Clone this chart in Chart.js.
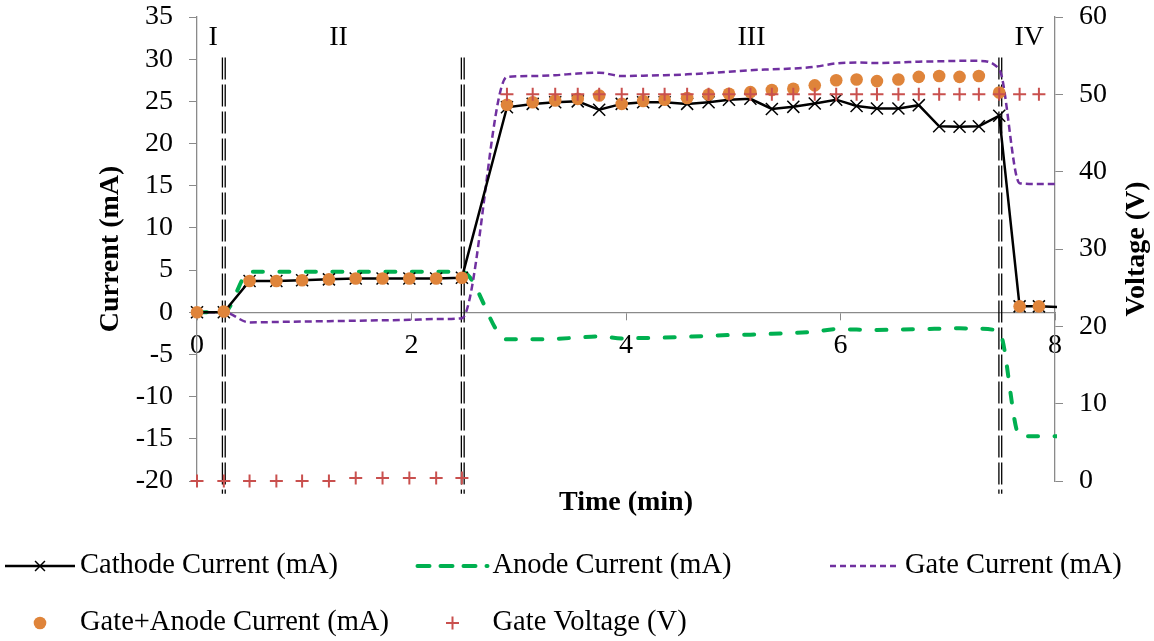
<!DOCTYPE html>
<html>
<head>
<meta charset="utf-8">
<script src="https://cdn.jsdelivr.net/npm/chart.js@4.4.1/dist/chart.umd.min.js"></script>
<style>
  html, body { margin: 0; padding: 0; background: #fff; }
  #wrap { width: 1154px; height: 641px; }
</style>
</head>
<body>
<div id="wrap"><canvas id="myChart" width="1154" height="641"></canvas></div>
<script>
// time of each sample (min)
const timeMin = [0, 0.25, 0.49, 0.74, 0.98, 1.23, 1.48, 1.73, 1.98, 2.23, 2.47,
  2.89, 3.13, 3.34, 3.55, 3.75, 3.96, 4.16, 4.36, 4.57, 4.77, 4.96, 5.16,
  5.36, 5.56, 5.76, 5.96, 6.15, 6.34, 6.54, 6.73, 6.92, 7.11, 7.29, 7.48,
  7.67, 7.85, 8.04];

const cathodeCurrent = [0, 0, 3.7, 3.7, 3.8, 3.9, 4.0, 4.0, 4.0, 4.0, 4.1,
  24.3, 24.7, 24.9, 25.0, 24.0, 24.7, 24.9, 24.9, 24.7, 24.9, 25.2, 25.3,
  24.1, 24.35, 24.75, 25.2, 24.45, 24.15, 24.15, 24.55, 22.05, 22.0, 22.05, 23.3,
  0.7, 0.7, 0.6];

const anodeCurrent = [0, 0, 4.8, 4.8, 4.8, 4.8, 4.8, 4.8, 4.8, 4.8, 4.8,
  -3.2, -3.2, -3.15, -3.0, -2.85, -3.1, -3.05, -3.0, -2.9, -2.8, -2.7, -2.65,
  -2.55, -2.45, -2.3, -2.0, -2.05, -2.1, -2.05, -2.0, -1.95, -1.9, -1.95, -2.3,
  -14.65, -14.7, -14.7];

const gateCurrent = [0, 0, -1.2, -1.15, -1.1, -1.05, -1.0, -0.95, -0.9, -0.8, -0.7,
  27.9, 28.0, 28.1, 28.3, 28.4, 28.0, 28.05, 28.1, 28.2, 28.35, 28.5, 28.7,
  28.8, 28.9, 29.1, 29.5, 29.6, 29.55, 29.6, 29.7, 29.75, 29.8, 29.8, 28.8,
  15.3, 15.2, 15.2];

const gateAnodeCurrent = [0, 0.1, 3.7, 3.7, 3.8, 3.9, 4.0, 4.0, 4.0, 4.0, 4.1,
  24.6, 24.9, 25.1, 25.3, 25.7, 24.7, 25.05, 25.2, 25.4, 25.8, 25.9, 26.1,
  26.35, 26.5, 26.9, 27.5, 27.6, 27.4, 27.6, 27.9, 28.0, 27.9, 28.0, 26.05,
  0.7, 0.7, null];

const gateVoltage = [0, 0, 0, 0, 0, 0, 0.4, 0.4, 0.4, 0.4, 0.4,
  50, 50, 50, 50, 50, 50, 50, 50, 50, 50, 50, 50,
  50, 50, 50, 50, 50, 50, 50, 50, 50, 50, 50, 50,
  50, 50, null];

// phase boundaries and labels
const phaseBounds = [0.25, 2.478, 7.49];
const phaseNames = ['I', 'II', 'III', 'IV'];
const phaseLabelTimes = [0.15, 1.32, 5.17, 7.76];

const serif = '"Liberation Serif", "Times New Roman", serif';
const axisGray = '#8a8a8a';

function pts(values) {
  return timeMin.map((t, i) => ({x: t, y: values[i]}));
}

// y axes: fixed width, no extra top/bottom room for the end labels
function fixWidth(w) {
  return s => {
    s.width = w;
    s.paddingTop = 0;
    s.paddingBottom = 0;
  };
}

const phasePlugin = {
  id: 'phases',
  beforeDatasetsDraw(chart) {
    const {ctx, scales: {x, y}} = chart;
    ctx.save();
    ctx.strokeStyle = '#000';
    ctx.lineWidth = 1.3;
    ctx.setLineDash([22, 5]);
    phaseBounds.forEach(t => {
      const px = x.getPixelForValue(t);
      [-1.4, 1.4].forEach(off => {
        ctx.beginPath();
        ctx.moveTo(px + off, y.getPixelForValue(30.2));
        ctx.lineTo(px + off, y.getPixelForValue(-21.5));
        ctx.stroke();
      });
    });
    ctx.restore();
  },
  afterDraw(chart) {
    const {ctx, scales: {x, y}} = chart;
    ctx.save();
    ctx.fillStyle = '#000';
    ctx.font = '28px ' + serif;
    ctx.textAlign = 'center';
    ctx.textBaseline = 'middle';
    phaseNames.forEach((n, i) => {
      ctx.fillText(n, x.getPixelForValue(phaseLabelTimes[i]), y.getPixelForValue(32.6));
    });

    // right axis title, reading upward like the left one
    const y2 = chart.scales.y2;
    ctx.font = 'bold 28px ' + serif;
    ctx.translate(1137, (chart.chartArea.top + chart.chartArea.bottom) / 2);
    ctx.rotate(-Math.PI / 2);
    ctx.fillText(y2.options.title.text, 0, 0);
    ctx.restore();
  }
};

const legendPlugin = {
  id: 'legendGrid',
  afterDraw(chart) {
    const ctx = chart.ctx;
    ctx.save();
    chart.data.datasets.forEach((ds, i) => {
      const col = i % 3, row = Math.floor(i / 3);
      const x0 = 5 + col * 412.5;
      const y0 = 566 + row * 57;
      if (ds.showLine !== false) {
        ctx.strokeStyle = ds.borderColor;
        ctx.lineWidth = ds.borderWidth;
        ctx.lineCap = ds.borderCapStyle || 'butt';
        ctx.setLineDash(ds.legendDash || []);
        ctx.beginPath();
        ctx.moveTo(x0, y0);
        ctx.lineTo(x0 + 70, y0);
        ctx.stroke();
      }
      ctx.setLineDash([]);
      ctx.lineCap = 'butt';
      if (ds.legendRadius) {
        ctx.fillStyle = ds.pointBackgroundColor;
        ctx.strokeStyle = ds.pointBorderColor;
        ctx.lineWidth = ds.pointBorderWidth;
        Chart.helpers.drawPoint(ctx, {pointStyle: ds.pointStyle, radius: ds.legendRadius,
          borderWidth: ds.pointBorderWidth, rotation: 0}, x0 + 35, y0);
      }
      ctx.fillStyle = '#000';
      ctx.font = '28.5px ' + serif;
      ctx.textAlign = 'left';
      ctx.textBaseline = 'middle';
      ctx.fillText(ds.label, x0 + 75, y0);
    });
    ctx.restore();
  }
};

const lineClip = {left: 10, top: 10, right: 2, bottom: 10};

new Chart(document.getElementById('myChart'), {
  type: 'line',
  data: {
    datasets: [
      {
        label: 'Cathode Current (mA)',
        data: pts(cathodeCurrent),
        yAxisID: 'y',
        borderColor: '#000',
        borderWidth: 2.5,
        pointStyle: 'crossRot',
        pointRadius: timeMin.map(t => t > 8 ? 0 : 8.5),
        legendRadius: 7,
        pointBorderColor: '#000',
        pointBackgroundColor: '#000',
        pointBorderWidth: 1.5,
        tension: 0,
        clip: lineClip,
        order: 2
      },
      {
        label: 'Anode Current (mA)',
        data: pts(anodeCurrent),
        yAxisID: 'y',
        borderColor: '#00B050',
        borderWidth: 4,
        borderDash: [10, 16.5],
        borderCapStyle: 'round',
        legendDash: [12, 11],
        pointRadius: 0,
        cubicInterpolationMode: 'monotone',
        clip: lineClip,
        order: 4
      },
      {
        label: 'Gate Current (mA)',
        data: pts(gateCurrent),
        yAxisID: 'y',
        borderColor: '#7030A0',
        borderWidth: 2.5,
        borderDash: [7, 4],
        legendDash: [6, 4],
        pointRadius: 0,
        cubicInterpolationMode: 'monotone',
        clip: lineClip,
        order: 3
      },
      {
        label: 'Gate+Anode Current (mA)',
        data: pts(gateAnodeCurrent),
        yAxisID: 'y',
        showLine: false,
        pointStyle: 'circle',
        pointRadius: 6.3,
        legendRadius: 6.3,
        pointBackgroundColor: '#DF843A',
        pointBorderColor: '#DF843A',
        pointBorderWidth: 0,
        clip: false,
        order: 1
      },
      {
        label: 'Gate Voltage (V)',
        data: pts(gateVoltage),
        yAxisID: 'y2',
        showLine: false,
        pointStyle: 'cross',
        pointRadius: 6.5,
        legendRadius: 6.5,
        pointBackgroundColor: '#C9504E',
        pointBorderColor: '#C9504E',
        pointBorderWidth: 2,
        clip: false,
        order: 0
      }
    ]
  },
  options: {
    responsive: false,
    animation: false,
    devicePixelRatio: 1,
    layout: {padding: {top: 17, left: 0, right: 0, bottom: 110}},
    plugins: {
      legend: {display: false},
      tooltip: {enabled: false}
    },
    scales: {
      x: {
        type: 'linear',
        min: 0, max: 8,
        position: {y: 0},
        ticks: {stepSize: 2, color: '#000', padding: 10, maxRotation: 0,
          font: {family: serif, size: 28}},
        grid: {display: true, drawOnChartArea: false, drawTicks: true, tickLength: 7,
          color: axisGray, lineWidth: 1},
        border: {display: true, color: axisGray, width: 1.3}
      },
      xTitle: {
        type: 'linear',
        axis: 'x',
        position: 'bottom',
        min: 0, max: 8,
        ticks: {display: false},
        grid: {display: false, drawTicks: false},
        border: {display: false},
        title: {display: true, text: 'Time (min)', color: '#000',
          font: {family: serif, size: 28, weight: 'bold'}, padding: {top: 0, bottom: 11}},
        afterFit: s => { s.height = 50; s.paddingLeft = 0; s.paddingRight = 0; }
      },
      y: {
        position: 'left',
        min: -20, max: 35,
        ticks: {stepSize: 5, color: '#000', padding: 16, font: {family: serif, size: 28}},
        grid: {display: true, drawOnChartArea: false, drawTicks: true, tickLength: 8,
          color: axisGray},
        border: {display: true, color: axisGray, width: 1.3},
        title: {display: true, text: 'Current (mA)', color: '#000',
          font: {family: serif, size: 28, weight: 'bold'}, padding: {top: 94, bottom: 0}},
        afterFit: fixWidth(197)
      },
      y2: {
        position: 'right',
        min: 0, max: 60,
        ticks: {stepSize: 10, color: '#000', padding: 16, font: {family: serif, size: 28}},
        grid: {display: true, drawOnChartArea: false, drawTicks: true, tickLength: 8,
          color: axisGray},
        border: {display: true, color: axisGray, width: 1.3},
        title: {display: false, text: 'Voltage (V)'},
        afterFit: fixWidth(99)
      }
    }
  },
  plugins: [phasePlugin, legendPlugin]
});
</script>
</body>
</html>
